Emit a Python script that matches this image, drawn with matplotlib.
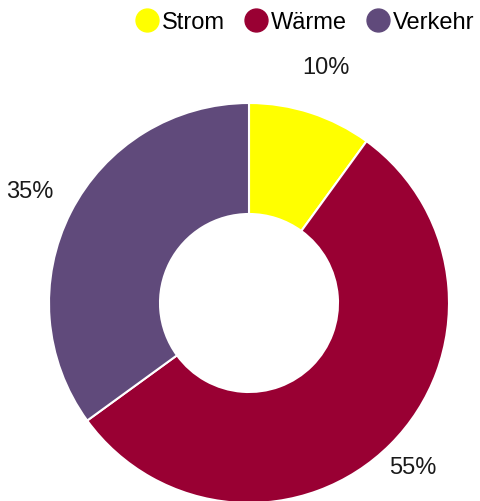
import matplotlib.pyplot as plt
from matplotlib.lines import Line2D

plt.rcParams['font.family'] = ['Liberation Sans', 'DejaVu Sans']

# Anteile
categories = ['Strom', 'Wärme', 'Verkehr']
values = [10, 55, 35]
colors = ['#FFFF00', '#990033', '#604A7B']
label_dist = [1.24, 1.16, 1.23]

fig = plt.figure(figsize=(4.81, 5.02), dpi=100)
ax = fig.add_axes([0, 0, 1, 1])

wedges, texts, autotexts = ax.pie(
    values, colors=colors, startangle=90, counterclock=False,
    center=(249, 198), radius=200, frame=True,
    autopct='%1.0f%%', pctdistance=1.2,
    wedgeprops=dict(width=111, edgecolor='white', linewidth=1.5),
    textprops=dict(fontsize=17, color='#1a1a1a'))
ax.set_xlim(0, 481)
ax.set_ylim(0, 502)
ax.set_aspect('equal')
ax.axis('off')

# Beschriftungen etwas verschieben (wie im Original)
for t, d in zip(autotexts, label_dist):
    x, y = t.get_position()
    t.set_position((249 + (x - 249) * d / 1.2, 198 + (y - 198) * d / 1.2))

handles = [Line2D([], [], marker='o', linestyle='none', markersize=16.5,
                  markerfacecolor=c, markeredgecolor=c) for c in colors]
fig.legend(handles, categories, loc='center', bbox_to_anchor=(305 / 481, 1 - 23 / 502),
           ncol=3, frameon=False, fontsize=17, handlelength=1.0,
           handletextpad=0.15, columnspacing=0.8, borderpad=0)

fig.savefig('out.png', dpi=100)
